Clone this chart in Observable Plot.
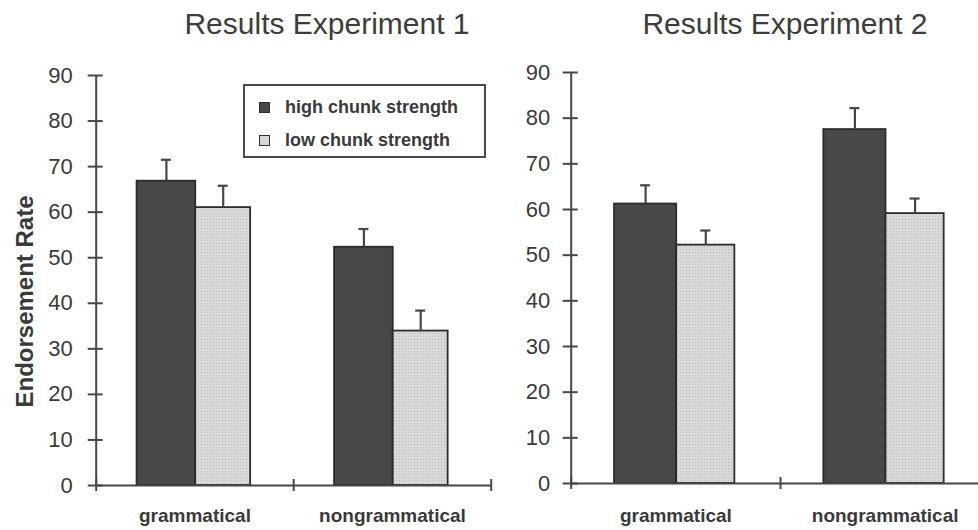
<!DOCTYPE html>
<html>
<head>
<meta charset="utf-8">
<script src="https://cdn.jsdelivr.net/npm/d3@7"></script>
<script src="https://cdn.jsdelivr.net/npm/@observablehq/plot@0.6"></script>
<style>
  html, body { margin: 0; padding: 0; background: #fff; overflow: hidden; }
  #wrap { position: relative; width: 978px; height: 530px; overflow: hidden;
          font-family: "Liberation Sans", Arial, sans-serif; color: #363636; }
  #wrap > svg.panel { position: absolute; top: 0; }
  .legend { position: absolute; left: 243px; top: 84px; width: 239px; height: 70px;
            border: 2px solid #4a4a4a; background: #fff; box-sizing: content-box; }
  .legend .item { position: absolute; left: 14px; height: 20px; display: flex; align-items: center;
                  font-size: 18px; font-weight: bold; color: #3a3a3a; white-space: nowrap; }
  .legend .sw { width: 9px; height: 9px; border: 1.5px solid #2e2e2e; margin-right: 15px; }
</style>
</head>
<body>
<svg width="0" height="0" style="position:absolute">
  <defs>
    <pattern id="lightDots" width="3" height="3" patternUnits="userSpaceOnUse">
      <rect width="3" height="3" fill="#d9d9d9"></rect>
      <rect width="1" height="1" fill="#bcbcbc"></rect>
    </pattern>
  </defs>
</svg>
<div id="wrap"></div>
<script>
// ---- data ----
const groups = ["grammatical", "nongrammatical"];
const strengths = ["high chunk strength", "low chunk strength"];
const titles = ["Results Experiment 1", "Results Experiment 2"];
const yLabel = "Endorsement Rate";
const yTicks = [0, 10, 20, 30, 40, 50, 60, 70, 80, 90];

const exp1High = [66.8, 52.3];
const exp1HighErr = [4.7, 4.0];
const exp1Low = [61.0, 33.9];
const exp1LowErr = [4.8, 4.5];

const exp2High = [61.2, 77.5];
const exp2HighErr = [4.1, 4.7];
const exp2Low = [52.2, 59.1];
const exp2LowErr = [3.2, 3.3];

// ---- layout / style ----
const barSpan = [[0.207, 0.504], [0.504, 0.782]]; // position of each strength's bar within a group slot
const fills = ["#484848", "url(#lightDots)"];
const swatchFills = ["#484848", "#d6d6d6"];
const ink = "#3a3a3a";
const axisInk = "#474747";

const panels = [
  {title: titles[0], high: exp1High, highErr: exp1HighErr, low: exp1Low, lowErr: exp1LowErr,
   left: 0, width: 500, mL: 95.7, mR: 9.3, mT: 75, mB: 45, tDx: 33.3, tickPad: 15.5, showYLabel: true},
  {title: titles[1], high: exp2High, highErr: exp2HighErr, low: exp2Low, lowErr: exp2LowErr,
   left: 500, width: 500, mL: 70.7, mR: 10.7, mT: 72, mB: 47, tDx: 4.5, tickPad: 13, showYLabel: false}
];

const wrap = document.getElementById("wrap");

for (const p of panels) {
  const rows = [];
  groups.forEach((g, gi) => {
    rows.push({group: g, gi, si: 0, strength: strengths[0], value: p.high[gi], err: p.highErr[gi]});
    rows.push({group: g, gi, si: 1, strength: strengths[1], value: p.low[gi], err: p.lowErr[gi]});
  });
  const center = d => d.gi + (barSpan[d.si][0] + barSpan[d.si][1]) / 2;
  const frameBottom = 530 - p.mB;

  const marks = [
    // title
    Plot.text([p.title], {text: d => d, frameAnchor: "top", lineAnchor: "middle",
      dx: p.tDx, dy: 23.5 - p.mT, fontSize: 30, fill: "#3d3d3d"}),
    // bars
    ...[0, 1].map(si => Plot.rectY(rows.filter(d => d.si === si), {
      x1: d => d.gi + barSpan[d.si][0],
      x2: d => d.gi + barSpan[d.si][1],
      y: "value",
      fill: fills[si],
      stroke: "#2c2c2c",
      strokeWidth: 1.8
    })),
    // error bars
    Plot.ruleX(rows, {x: center, y1: "value", y2: d => d.value + d.err, stroke: axisInk, strokeWidth: 2.2}),
    Plot.ruleY(rows, {y: d => d.value + d.err, x1: center, x2: center,
      insetLeft: -5, insetRight: -5, stroke: axisInk, strokeWidth: 2.2}),
    // axes lines
    Plot.ruleX([0], {stroke: axisInk, strokeWidth: 2}),
    Plot.ruleY([0], {stroke: axisInk, strokeWidth: 2}),
    // y ticks & labels
    Plot.axisY({ticks: yTicks, tickSize: 15, dx: 7, tickPadding: p.tickPad, fontSize: 22,
      stroke: axisInk, strokeWidth: 2, fill: ink, label: null}),
    // group boundary ticks on x axis
    Plot.axisX({ticks: d3.range(groups.length + 1), tickSize: 12, dy: -6, tickFormat: () => "",
      stroke: axisInk, strokeWidth: 2, label: null}),
    // group labels
    Plot.text(groups, {x: (d, i) => i + 0.5, text: d => d, frameAnchor: "bottom", lineAnchor: "middle",
      dy: 515 - frameBottom, fontSize: 19, fontWeight: "bold", fill: ink})
  ];
  if (p.showYLabel) {
    marks.push(Plot.text([yLabel], {text: d => d, frameAnchor: "left", textAnchor: "middle",
      lineAnchor: "middle", rotate: -90,
      dx: 24.5 - p.mL, dy: 301 - (p.mT + frameBottom) / 2,
      fontSize: 24, fontWeight: "bold", fill: ink}));
  }

  const chart = Plot.plot({
    width: p.width,
    height: 530,
    marginLeft: p.mL,
    marginRight: p.mR,
    marginTop: p.mT,
    marginBottom: p.mB,
    x: {domain: [0, groups.length]},
    y: {domain: [0, 90]},
    style: {fontFamily: "'Liberation Sans', Arial, sans-serif", background: "transparent", overflow: "visible"},
    marks
  });
  chart.classList.add("panel");
  chart.style.left = p.left + "px";
  wrap.appendChild(chart);
}

// legend (inside the first panel)
const legend = document.createElement("div");
legend.className = "legend";
strengths.forEach((s, i) => {
  const item = document.createElement("div");
  item.className = "item";
  item.style.top = (i === 0 ? 11 : 44) + "px";
  const sw = document.createElement("span");
  sw.className = "sw";
  sw.style.background = swatchFills[i];
  item.appendChild(sw);
  item.appendChild(document.createTextNode(s));
  legend.appendChild(item);
});
wrap.appendChild(legend);
</script>
</body>
</html>
